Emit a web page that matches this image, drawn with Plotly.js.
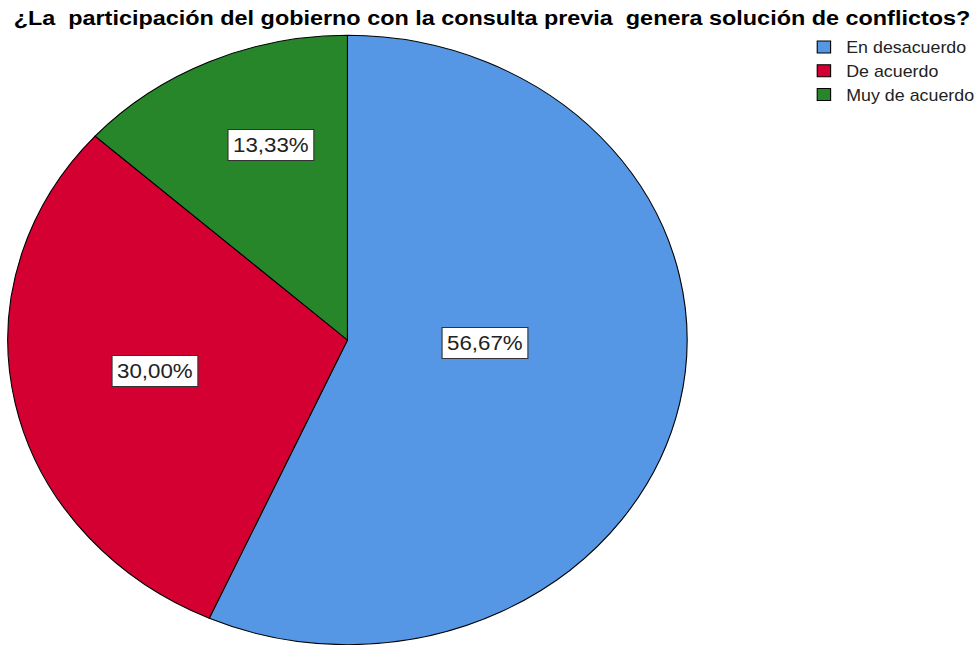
<!DOCTYPE html>
<html><head><meta charset="utf-8">
<script src="https://cdn.plot.ly/plotly-3.0.1.min.js"></script>
<style>
html,body{margin:0;padding:0;background:#fff;overflow:hidden;}
#chart{width:879px;height:645px;transform:scaleX(1.1149);transform-origin:0 0;}
</style>
</head><body><div id="chart"></div>
<script>
const categories = ["En desacuerdo", "De acuerdo", "Muy de acuerdo"];
const values = [56.67, 30.00, 13.33];
const colors = ["#5596E5", "#D50032", "#268629"];
const labelRadius = [0.406, 0.575, 0.677];
const labelAngleOffset = [-10.6, 1.7, 4.5];

const W = 879, H = 645;
const cx = 312, cy = 340, R = 305;
const dom = {x: [(cx - R) / W, (cx + R) / W], y: [(H - cy - R) / H, (H - cy + R) / H]};

const total = values.reduce((a, b) => a + b, 0);
let cum = 0;
const annotations = values.map((v, i) => {
  const mid = (cum + v / 2) / total * 2 * Math.PI + labelAngleOffset[i] * Math.PI / 180;
  cum += v;
  const r = R * labelRadius[i];
  const px = cx + r * Math.sin(mid);
  const py = cy - r * Math.cos(mid);
  return {
    x: px / W, y: 1 - py / H, xref: 'paper', yref: 'paper', showarrow: false,
    xanchor: 'center', yanchor: 'middle',
    text: v.toFixed(2).replace('.', ',') + '%',
    font: {family: 'Liberation Sans, Arial, sans-serif', size: 20, color: '#222'},
    bgcolor: '#ffffff', bordercolor: '#333', borderwidth: 1, borderpad: 4
  };
});

const data = [{
  type: 'pie', labels: categories, values: values, sort: false, direction: 'clockwise',
  rotation: 0, textinfo: 'none', hoverinfo: 'label+percent',
  marker: {colors: colors, line: {color: '#000', width: 1}},
  domain: dom
}];

const layout = {
  width: W, height: H, margin: {l: 0, r: 0, t: 0, b: 0},
  paper_bgcolor: '#fff',
  title: {text: '¿La  participación del gobierno con la consulta previa  genera solución de conflictos?',
    font: {family: 'Liberation Sans, Arial, sans-serif', size: 21, color: '#000', weight: 'bold'},
    x: 0.502, xanchor: 'center', y: 0.972, yanchor: 'middle'},
  showlegend: true,
  legend: {x: 0.819, y: 0.9535, xanchor: 'left', yanchor: 'top', traceorder: 'normal',
    font: {family: 'Liberation Sans, Arial, sans-serif', size: 16, color: '#222'},
    itemwidth: 30, tracegroupgap: 0, bgcolor: 'rgba(0,0,0,0)'},
  annotations: annotations
};

Plotly.newPlot('chart', data, layout, {displayModeBar: false});
</script>
</body></html>
